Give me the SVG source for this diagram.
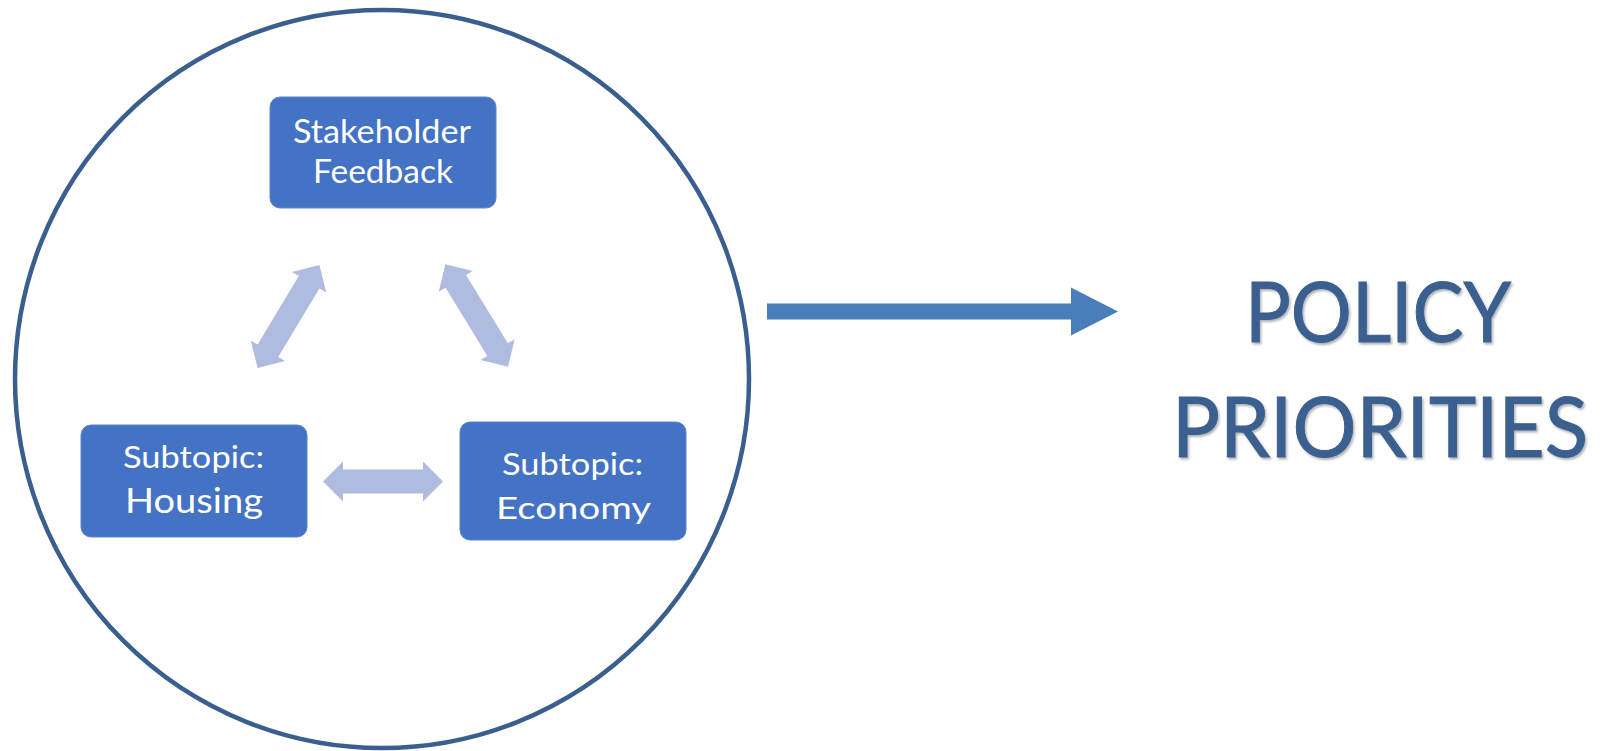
<svg xmlns="http://www.w3.org/2000/svg" width="1606" height="751" viewBox="0 0 1606 751">
<style>
.box{fill:#4472C4;stroke:#5b84cc;stroke-width:1}
.lbl{font-family:Lato,"Open Sans","Liberation Sans",sans-serif;fill:#ffffff}
.dbl{fill:#B0BCDF}
.big{font-family:Lato,"Open Sans","Liberation Sans",sans-serif;fill:#3A6090;stroke:#3A6090;stroke-width:1;font-size:83px}
</style>
<defs>
<path id="dblarrow" d="M -60 0 L -40 -20 L -40 -12 L 40 -12 L 40 -20 L 60 0 L 40 20 L 40 12 L -40 12 L -40 20 Z"/>
<filter id="sh" x="-5%" y="-5%" width="110%" height="120%">
<feDropShadow dx="1.5" dy="2" stdDeviation="1.2" flood-color="#000" flood-opacity="0.3"/>
</filter>
</defs>
<rect width="1606" height="751" fill="#ffffff"/>
<ellipse id="circle" cx="382" cy="379" rx="367" ry="369" fill="none" stroke="#3A5F8F" stroke-width="4.5"/>
<g id="stakeholder">
<rect class="box" x="270" y="97" width="226" height="111" rx="10"/>
<text class="lbl" x="293" y="143" font-size="33.5" textLength="178" lengthAdjust="spacingAndGlyphs">Stakeholder</text>
<text class="lbl" x="313" y="183" font-size="33.5" textLength="140" lengthAdjust="spacingAndGlyphs">Feedback</text>
</g>
<g id="housing">
<rect class="box" x="81" y="425" width="226" height="112" rx="10"/>
<text class="lbl" x="123" y="468" font-size="31" textLength="141" lengthAdjust="spacingAndGlyphs">Subtopic:</text>
<text class="lbl" x="125" y="513" font-size="34.5" textLength="138" lengthAdjust="spacingAndGlyphs">Housing</text>
</g>
<g id="economy">
<rect class="box" x="460" y="422" width="226" height="118" rx="10"/>
<text class="lbl" x="502" y="475" font-size="31" textLength="141" lengthAdjust="spacingAndGlyphs">Subtopic:</text>
<text class="lbl" x="496" y="519" font-size="31.5" textLength="155" lengthAdjust="spacingAndGlyphs">Economy</text>
</g>
<g id="connectors">
<use href="#dblarrow" class="dbl" transform="translate(288.5 316.5) rotate(-59)"/>
<use href="#dblarrow" class="dbl" transform="translate(476.7 315.5) rotate(58.5)"/>
<use href="#dblarrow" class="dbl" transform="translate(383 481.5)"/>
<path d="M 767 303.5 L 1071 303.5 L 1071 287.5 L 1118 311.5 L 1071 335.5 L 1071 319.5 L 767 319.5 Z" fill="#4A7EBB"/>
</g>
<g id="policy" filter="url(#sh)">
<text class="big" x="1245" y="342" textLength="266" lengthAdjust="spacingAndGlyphs">POLICY</text>
<text class="big" x="1172" y="457" textLength="416" lengthAdjust="spacingAndGlyphs">PRIORITIES</text>
</g>
</svg>
